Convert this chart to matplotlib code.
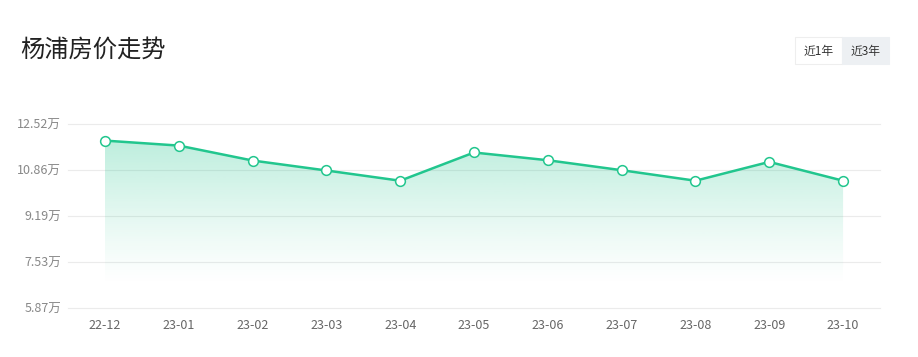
import numpy as np
import matplotlib.pyplot as plt
from matplotlib.patches import Polygon, Rectangle

plt.rcParams['font.family'] = ['Noto Sans CJK SC', 'DejaVu Sans']

months = ['22-12', '23-01', '23-02', '23-03', '23-04', '23-05',
          '23-06', '23-07', '23-08', '23-09', '23-10']
prices = [11.92, 11.74, 11.20, 10.84, 10.47, 11.49, 11.21, 10.85, 10.47, 11.15, 10.47]
yticks = [5.87, 7.53, 9.19, 10.86, 12.52]

line_color = '#22c68e'
W, H = 918, 357

fig = plt.figure(figsize=(W / 100, H / 100), dpi=100)
ax = fig.add_axes([68 / W, (H - 308) / H, (880 - 68) / W, (308 - 124) / H])

x = np.arange(len(months))
ax.set_xlim(-0.5, len(months) - 0.5)
ax.set_ylim(yticks[0], yticks[-1])

# gradient fill under the line, fading out
grad = np.linspace(0, 1, 256).reshape(-1, 1)
rgba = np.zeros((256, 1, 4))
rgba[..., 0] = 0x22 / 255
rgba[..., 1] = 0xc6 / 255
rgba[..., 2] = 0x8e / 255
rgba[..., 3] = 0.30 * grad ** 1.2
img = ax.imshow(rgba, extent=[x[0], x[-1], 6.7, max(prices)], origin='lower',
                aspect='auto', zorder=1)
poly = Polygon(list(zip(x, prices)) + [(x[-1], yticks[0]), (x[0], yticks[0])],
               closed=True, transform=ax.transData, facecolor='none', edgecolor='none')
ax.add_patch(poly)
img.set_clip_path(poly)

ax.plot(x, prices, color=line_color, lw=1.8, zorder=3, marker='o', ms=7,
        mfc='white', mec=line_color, mew=1.1)

# horizontal grid lines, drawn without clipping so the bottom one shows
for v in yticks:
    ax.axhline(v, color='#ebebeb', lw=0.8, zorder=0, clip_on=False)

ax.set_yticks(yticks)
ax.set_yticklabels([f'{v:.2f}万' for v in yticks])
ax.set_xticks(x)
ax.set_xticklabels(months)
for s in ax.spines.values():
    s.set_visible(False)
ax.tick_params(axis='y', length=0, labelsize=9, labelcolor='#888888', pad=5)
ax.tick_params(axis='x', length=0, labelsize=9, labelcolor='#666666', pad=8)

# title
fig.text(20 / W, 1 - 50 / H, '杨浦房价走势', fontsize=17.5, color='#222222',
         va='center', ha='left')

# range toggle buttons
fig.patches.append(Rectangle((795 / W, 1 - 64 / H), 47 / W, 27 / H,
                             transform=fig.transFigure, facecolor='white',
                             edgecolor='#eeeeee', lw=0.8))
fig.patches.append(Rectangle((842 / W, 1 - 64 / H), 47 / W, 27 / H,
                             transform=fig.transFigure, facecolor='#edf0f3',
                             edgecolor='#edf0f3', lw=0.8))
fig.text(818.5 / W, 1 - 51 / H, '近1年', fontsize=8.5, color='#333333',
         ha='center', va='center')
fig.text(865.5 / W, 1 - 51 / H, '近3年', fontsize=8.5, color='#333333',
         ha='center', va='center')

fig.savefig('out.png', dpi=100)
